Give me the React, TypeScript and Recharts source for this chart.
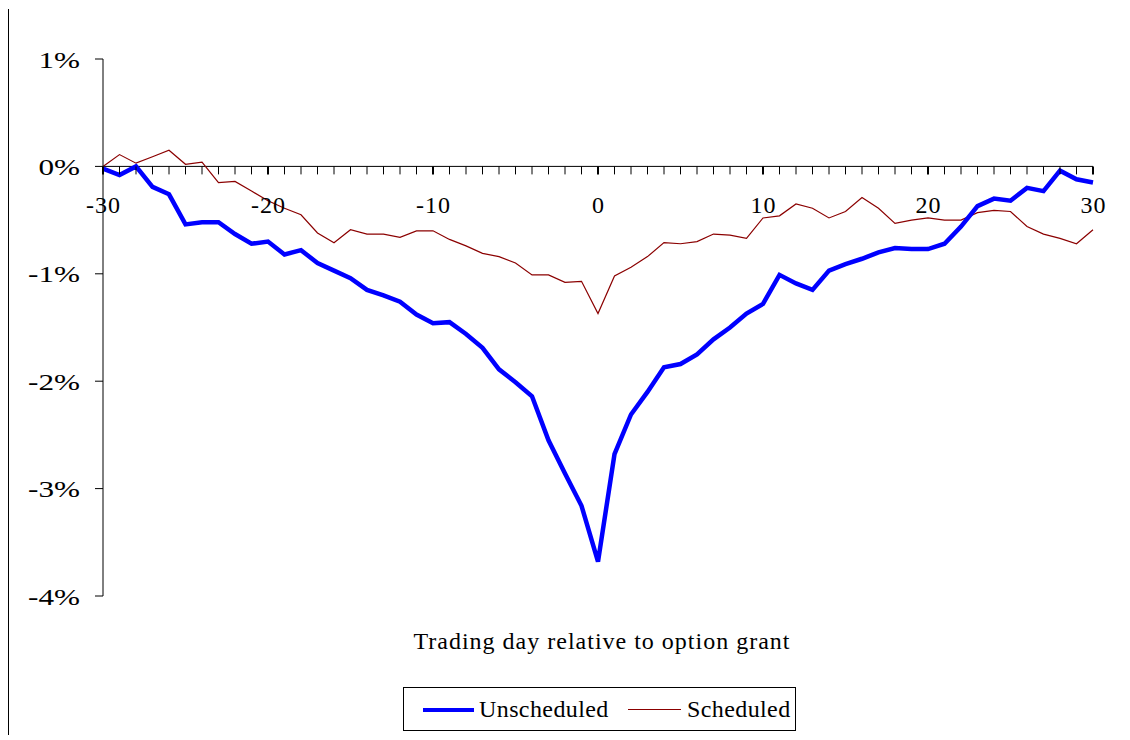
import React from "react";
import { LineChart, Line, XAxis, YAxis, ReferenceLine, ReferenceDot, Legend } from "recharts";

const days = [
  -30, -29, -28, -27, -26, -25, -24, -23, -22, -21, -20, -19, -18, -17, -16, -15, -14, -13, -12, -11,
  -10, -9, -8, -7, -6, -5, -4, -3, -2, -1, 0, 1, 2, 3, 4, 5, 6, 7, 8, 9, 10, 11, 12, 13, 14, 15, 16,
  17, 18, 19, 20, 21, 22, 23, 24, 25, 26, 27, 28, 29, 30,
];

const unscheduled = [
  -0.02, -0.08, 0.0, -0.19, -0.26, -0.54, -0.52, -0.52, -0.63, -0.72, -0.7, -0.82, -0.78, -0.9, -0.97,
  -1.04, -1.15, -1.2, -1.26, -1.38, -1.46, -1.45, -1.56, -1.69, -1.89, -2.01, -2.14, -2.55, -2.86,
  -3.16, -3.68, -2.68, -2.31, -2.1, -1.87, -1.84, -1.75, -1.61, -1.5, -1.37, -1.28, -1.01, -1.09,
  -1.15, -0.97, -0.91, -0.86, -0.8, -0.76, -0.77, -0.77, -0.72, -0.56, -0.37, -0.3, -0.32, -0.2,
  -0.23, -0.04, -0.12, -0.15,
];

const scheduled = [
  0.0, 0.11, 0.03, 0.09, 0.15, 0.02, 0.04, -0.15, -0.14, -0.23, -0.32, -0.39, -0.45, -0.62, -0.71,
  -0.59, -0.63, -0.63, -0.66, -0.6, -0.6, -0.68, -0.74, -0.81, -0.84, -0.9, -1.01, -1.01, -1.08,
  -1.07, -1.37, -1.02, -0.94, -0.84, -0.71, -0.72, -0.7, -0.63, -0.64, -0.67, -0.48, -0.46, -0.35,
  -0.39, -0.48, -0.42, -0.29, -0.39, -0.53, -0.5, -0.48, -0.5, -0.5, -0.43, -0.41, -0.42, -0.56,
  -0.63, -0.67, -0.72, -0.59,
];

const yTicks = [-4, -3, -2, -1, 0, 1];
const xLabelDays = [-30, -20, -10, 0, 10, 20, 30];

const seriesNames = { unscheduled: "Unscheduled", scheduled: "Scheduled" };
const axisTitle = "Trading day relative to option grant";

const data = days.map((d, i) => ({
  day: d,
  unscheduled: unscheduled[i],
  scheduled: scheduled[i],
}));

const FONT = "'Liberation Serif', 'Times New Roman', serif";
const FS = 24;
const LS = 1;
const LEG_LS = 0.4;
const BLUE = "#0000FF";
const RED = "#8B0000";

const TickMark = (props: any) => {
  const { cx, cy, day } = props;
  const major = xLabelDays.includes(day);
  return (
    <g>
      <line x1={cx} y1={cy} x2={cx} y2={cy + 8} stroke="#000" strokeWidth={major ? 2 : 1} />
      {major && (
        <text
          x={cx + LS / 2}
          y={cy + 47}
          textAnchor="middle"
          fontFamily={FONT}
          fontSize={FS}
          letterSpacing={LS}
          fill="#000"
        >
          {day}
        </text>
      )}
    </g>
  );
};

const YTick = (props: any) => {
  const { x, y, payload } = props;
  return (
    <text
      transform={`translate(${x},${y}) scale(1.3,1)`}
      x={0}
      y={0}
      dy="0.355em"
      textAnchor="end"
      fontFamily={FONT}
      fontSize={FS}
      fill="#000"
    >
      {`${payload.value}%`}
    </text>
  );
};

const LegendBox = () => (
  <div
    style={{
      width: 393,
      height: 44,
      border: "1px solid #000",
      boxSizing: "border-box",
      position: "relative",
      fontFamily: FONT,
      fontSize: FS,
      letterSpacing: LEG_LS,
      color: "#000",
      background: "#fff",
    }}
  >
    <div style={{ position: "absolute", left: 19, top: 20, width: 51, height: 4, background: BLUE }} />
    <div style={{ position: "absolute", left: 75, top: 7, lineHeight: "28px", whiteSpace: "nowrap" }}>
      {seriesNames.unscheduled}
    </div>
    <div style={{ position: "absolute", left: 224, top: 21, width: 53, height: 1, background: RED }} />
    <div style={{ position: "absolute", left: 283, top: 7, lineHeight: "28px", whiteSpace: "nowrap" }}>
      {seriesNames.scheduled}
    </div>
  </div>
);

const TitleLabel = (props: any) => {
  const { viewBox } = props;
  const x = viewBox.x + viewBox.width / 2 + 4;
  const y = viewBox.y + 53;
  return (
    <text
      x={x}
      y={y}
      textAnchor="middle"
      fontFamily={FONT}
      fontSize={FS}
      letterSpacing={LS}
      fill="#000"
    >
      {axisTitle}
    </text>
  );
};

export default function App() {
  return (
    <div style={{ position: "absolute", left: 0, top: 0, width: 1130, height: 740, background: "#fff" }}>
      <div style={{ position: "absolute", left: 8, top: 9, width: 1, height: 726, background: "#000" }} />
      <LineChart
        width={1130}
        height={740}
        data={data}
        margin={{ top: 59, right: 37, bottom: 84, left: 0 }}
      >
        <XAxis
          dataKey="day"
          type="number"
          domain={[-30, 30]}
          ticks={xLabelDays}
          axisLine={false}
          tickLine={false}
          tick={false}
          height={60}
          label={<TitleLabel />}
        />
        <YAxis
          type="number"
          domain={[-4, 1]}
          ticks={yTicks}
          width={103}
          tickSize={8}
          tickMargin={15}
          axisLine={{ stroke: "#000", strokeWidth: 1 }}
          tickLine={{ stroke: "#000", strokeWidth: 1 }}
          tick={<YTick />}
          interval={0}
        />
        <ReferenceLine y={0} stroke="#000" strokeWidth={1} />
        {days.map((d) => (
          <ReferenceDot
            key={d}
            x={d}
            y={0}
            r={0}
            shape={(p: any) => <TickMark {...p} day={d} />}
          />
        ))}
        <Line
          type="linear"
          dataKey="scheduled"
          name={seriesNames.scheduled}
          stroke={RED}
          strokeWidth={1.2}
          dot={false}
          activeDot={false}
          isAnimationActive={false}
        />
        <Line
          type="linear"
          dataKey="unscheduled"
          name={seriesNames.unscheduled}
          stroke={BLUE}
          strokeWidth={4.5}
          dot={false}
          activeDot={false}
          isAnimationActive={false}
        />
        <Legend
          layout="horizontal"
          verticalAlign="middle"
          align="center"
          content={<LegendBox />}
          wrapperStyle={{ left: 403, top: 687, width: 393, height: 44 }}
        />
      </LineChart>
    </div>
  );
}
